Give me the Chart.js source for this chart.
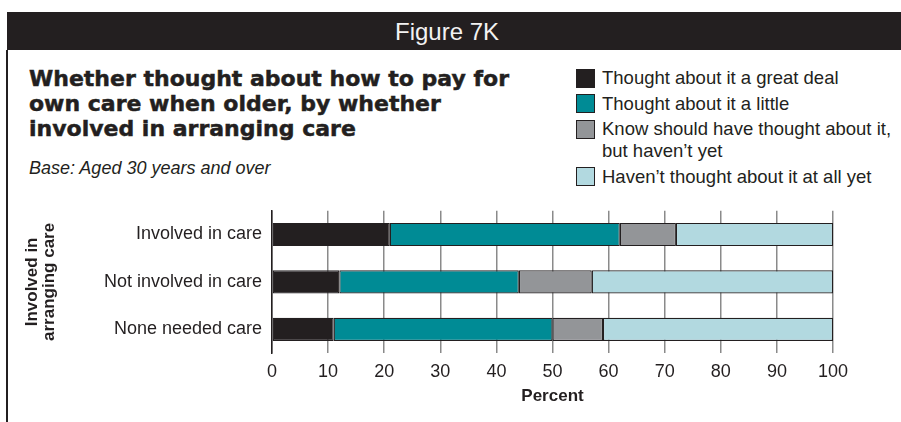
<!DOCTYPE html>
<html>
<head>
<meta charset="utf-8">
<script src="https://cdn.jsdelivr.net/npm/chart.js@4/dist/chart.umd.min.js"></script>
<style>
  html, body { margin: 0; padding: 0; background: #fff; }
  #page { position: relative; width: 901px; height: 422px; overflow: hidden; font-family: "Liberation Sans", Arial, sans-serif; color: #231f20; }
  #band { position: absolute; left: 7px; top: 12px; width: 894px; height: 38px; background: #231f20; }
  #band span { position: absolute; left: 0; right: 14px; top: 6px; text-align: center; color: #f2f2f2; font-size: 24px; }
  #rule { position: absolute; left: 6px; top: 50px; width: 2px; height: 372px; background: #231f20; }
  #title { position: absolute; left: 29px; top: 66px; white-space: nowrap; font-family: "DejaVu Sans", sans-serif; font-weight: bold; font-size: 22px; line-height: 25px; -webkit-text-stroke: 0.5px #231f20; }
  #base { position: absolute; left: 29px; top: 158px; font-style: italic; font-size: 18px; }
  #legend { position: absolute; left: 576px; top: 67px; width: 320px; }
  .item { position: relative; padding-left: 26px; font-size: 18.5px; line-height: 22px; margin-bottom: 3.5px; }
  .item i { position: absolute; left: 0; top: 1.5px; width: 17px; height: 17px; border: 1px solid #231f20; }
  #chart { position: absolute; left: 0; top: 190px; }
</style>
</head>
<body>
<div id="page">
  <div id="band"><span>Figure 7K</span></div>
  <div id="rule"></div>
  <div id="title">Whether thought about how to pay for<br>own care when older, by whether<br>involved in arranging care</div>
  <div id="base">Base: Aged 30 years and over</div>
  <div id="legend"></div>
  <canvas id="chart" width="901" height="232"></canvas>
</div>
<script>
// Groups on the y axis
const categories = ['Involved in care', 'Not involved in care', 'None needed care'];

// Percentages for each answer, one value per group
const greatDeal = [21, 12, 11];
const aLittle = [41, 32, 39];
const shouldHave = [10, 13, 9];
const notAtAll = [28, 43, 41];

const seriesNames = [
    'Thought about it a great deal',
    'Thought about it a little',
    'Know should have thought about it, but haven\u2019t yet',
    'Haven\u2019t thought about it at all yet'
];
const seriesColours = ['#231f20', '#008b95', '#939598', '#b2d9e0'];

const ink = '#231f20';
const tickFont = { family: '"Liberation Sans", Arial, sans-serif', size: 18 };

// Legend built from the series, with a line break after the comma
function buildLegend() {
    const box = document.getElementById('legend');
    seriesNames.forEach((name, i) => {
        const row = document.createElement('div');
        row.className = 'item';
        const swatch = document.createElement('i');
        swatch.style.background = seriesColours[i];
        row.appendChild(swatch);
        const parts = name.split(', ');
        parts.forEach((p, j) => {
            row.appendChild(document.createTextNode(j < parts.length - 1 ? p + ',' : p));
            if (j < parts.length - 1) row.appendChild(document.createElement('br'));
        });
        box.appendChild(row);
    });
}

function createChart() {
    const values = [greatDeal, aLittle, shouldHave, notAtAll];
    const datasets = values.map((data, i) => ({
        label: seriesNames[i],
        data: data,
        backgroundColor: seriesColours[i],
        borderColor: ink,
        borderWidth: 1.2,
        borderSkipped: false,
        barPercentage: 0.49,
        categoryPercentage: 1
    }));

    new Chart(document.getElementById('chart'), {
        type: 'bar',
        data: { labels: categories, datasets: datasets },
        options: {
            indexAxis: 'y',
            responsive: false,
            animation: false,
            devicePixelRatio: 1,
            layout: { padding: { top: 17, right: 68, left: 0, bottom: 0 } },
            plugins: { legend: { display: false }, tooltip: { enabled: false } },
            scales: {
                x: {
                    stacked: true,
                    min: 0,
                    max: 100,
                    ticks: { stepSize: 10, color: ink, font: tickFont, padding: 8 },
                    grid: { color: '#8a8a8a', lineWidth: 1.5, drawTicks: false },
                    border: { display: false },
                    title: {
                        display: true,
                        text: 'Percent',
                        color: ink,
                        font: { family: '"Liberation Sans", Arial, sans-serif', size: 17, weight: 'bold', lineHeight: 1.2 },
                        padding: { top: 0, bottom: 15 }
                    },
                    afterFit: (scale) => { scale.height = 69; }
                },
                y: {
                    stacked: true,
                    ticks: { color: ink, font: tickFont, padding: 10 },
                    grid: { display: false, drawTicks: false },
                    border: { display: true, color: ink, width: 1.5 },
                    title: {
                        display: true,
                        text: ['Involved in', 'arranging care'],
                        color: ink,
                        font: { family: '"Liberation Sans", Arial, sans-serif', size: 17, weight: 'bold', lineHeight: 1 },
                        padding: { top: 24, bottom: 0 }
                    },
                    afterFit: (scale) => { scale.width = 272; }
                }
            }
        }
    });
}

buildLegend();
createChart();
</script>
</body>
</html>
